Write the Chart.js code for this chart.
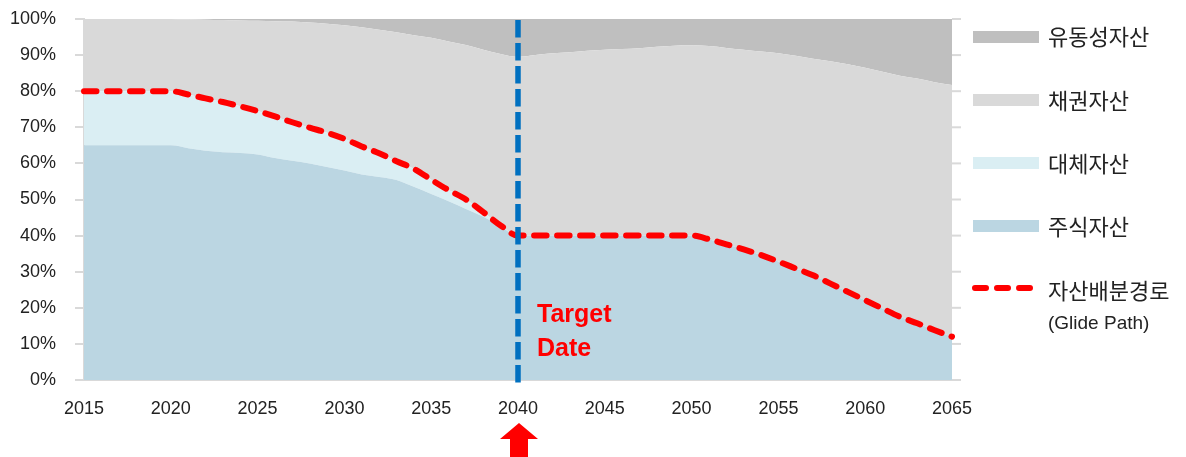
<!DOCTYPE html>
<html>
<head>
<meta charset="utf-8">
<script src="https://cdn.jsdelivr.net/npm/chart.js@4/dist/chart.umd.min.js"></script>
<style>
  body { margin: 0; background: #fff; }
  #wrap { position: relative; width: 1186px; height: 457px; }
  .sw { position: absolute; left: 973px; width: 66px; height: 12px; }
  .lg { position: absolute; left: 1048px; font: 22px "Noto Sans CJK KR", sans-serif; color: #222; line-height: 26px; white-space: nowrap; }
  .sub { position: absolute; left: 1048px; font: 19px "Liberation Sans", sans-serif; color: #222; line-height: 22px; white-space: nowrap; }
</style>
</head>
<body>
<div id="wrap">
  <canvas id="grafico"></canvas>
  <div class="sw" style="top:31px;background:#BFBFBF"></div>
  <div class="lg" style="top:22px">유동성자산</div>
  <div class="sw" style="top:94px;background:#D9D9D9"></div>
  <div class="lg" style="top:86px">채권자산</div>
  <div class="sw" style="top:157px;background:#DAEEF3"></div>
  <div class="lg" style="top:149px">대체자산</div>
  <div class="sw" style="top:220px;background:#BBD6E2"></div>
  <div class="lg" style="top:212px">주식자산</div>
  <svg style="position:absolute;left:0;top:0" width="1186" height="457">
    <line x1="975" y1="288" x2="1030" y2="288" stroke="#FF0000" stroke-width="6" stroke-linecap="round" stroke-dasharray="11 11"/>
  </svg>
  <div class="lg" style="top:276px">자산배분경로</div>
  <div class="sub" style="top:312px">(Glide Path)</div>
</div>
<script>
const anos = [2015,2016,2017,2018,2019,2020,2021,2022,2023,2024,2025,2026,2027,2028,2029,2030,
  2031,2032,2033,2034,2035,2036,2037,2038,2039,2040,2041,2042,2043,2044,2045,2046,2047,2048,2049,2050,
  2051,2052,2053,2054,2055,2056,2057,2058,2059,2060,2061,2062,2063,2064,2065];

// shares in %
const acoes = [65,65,65,65,65,65, 64.2,63.5,63.1,62.9,62.5,61.5,60.7,60,59,58,
  56.9,56.2,55.4,53.5,51.5,49.5,47.4,45.2,42.5,40, 40,40,40,40,40,40,40,40,40,40,
  39,37.6,36.2,34.6,32.8,30.9,29,26.7,24.4,22.1, 19.8,17.5,15.7,13.8,12];
const alternativos = [15,15,15,15,15,15, 14.9,14.5,13.9,12.9,12,11.5,10.7,9.9,9.5,8.8,
  7.8,6.6,5.2,5,4,3.1,2.6,1.3,0.3,0, 0,0,0,0,0,0,0,0,0,0,
  0,0,0,0,0,0,0,0,0,0, 0,0,0,0,0];
const titulos = [20,20,20,20,20,20, 20.8,21.8,22.7,23.8,25,26.4,27.9,29.1,30.2,31.5,
  33,34.2,35.7,37,39.3,41.2,42.8,45,47.5,49.5, 50,50.5,50.8,51.2,51.5,51.7,51.9,52.3,52.6,52.7,
  53.5,54.4,55.3,56.4,57.7,58.9,60,61.6,63.1,64.4, 65.6,66.8,67.8,68.7,69.7];
const liquidez = [0,0,0,0,0,0, 0.1,0.2,0.3,0.4,0.5,0.6,0.7,1,1.3,1.7,
  2.3,3,3.7,4.5,5.2,6.2,7.2,8.5,9.7,10.5, 10,9.5,9.2,8.8,8.5,8.3,8.1,7.7,7.4,7.3,
  7.5,8,8.5,9,9.5,10.2,11,11.7,12.5,13.5, 14.6,15.7,16.5,17.5,18.3];
const glidePath = [80,80,80,80,80,80, 79.1,78,77,75.8,74.5,73,71.4,69.9,68.5,66.8,
  64.7,62.8,60.6,58.5,55.5,52.6,50,46.5,42.8,40, 40,40,40,40,40,40,40,40,40,40,
  39,37.6,36.2,34.6,32.8,30.9,29,26.7,24.4,22.1, 19.8,17.5,15.7,13.8,12];
const anoAlvo = 2040;

const area = (label, data, cor, fill) => ({
    label: label,
    data: data,
    backgroundColor: cor,
    borderWidth: 0,
    pointRadius: 0,
    fill: fill,
    stack: 'ativos',
    cubicInterpolationMode: 'monotone',
});

const extras = {
    id: 'extras',
    afterDatasetsDraw(chart) {
        const ctx = chart.ctx;
        const x = chart.scales.x;
        const y = chart.scales.y;
        const a = chart.chartArea;
        const px = x.getPixelForValue(anos.indexOf(anoAlvo));
        ctx.save();
        // right side tick marks
        ctx.strokeStyle = '#D9D9D9';
        ctx.lineWidth = 2;
        for (let v = 0; v <= 100; v += 10) {
            const py = y.getPixelForValue(v);
            ctx.beginPath();
            ctx.moveTo(a.right, py);
            ctx.lineTo(a.right + 9, py);
            ctx.stroke();
        }
        // target date line
        ctx.strokeStyle = '#0070C0';
        ctx.lineWidth = 5.5;
        ctx.setLineDash([17.5, 5.5]);
        ctx.beginPath();
        ctx.moveTo(px, a.top + 1);
        ctx.lineTo(px, a.bottom + 3);
        ctx.stroke();
        ctx.setLineDash([]);
        ctx.fillStyle = '#FF0000';
        ctx.font = 'bold 25px "Liberation Sans", sans-serif';
        ctx.textBaseline = 'alphabetic';
        ctx.fillText('Target', px + 19, y.getPixelForValue(16));
        ctx.fillText('Date', px + 19, y.getPixelForValue(6.6));
        // arrow
        ctx.beginPath();
        ctx.moveTo(px + 1, 423);
        ctx.lineTo(px + 20, 439);
        ctx.lineTo(px + 10, 439);
        ctx.lineTo(px + 10, 457);
        ctx.lineTo(px - 8, 457);
        ctx.lineTo(px - 8, 439);
        ctx.lineTo(px - 18, 439);
        ctx.closePath();
        ctx.fill();
        ctx.restore();
    }
};

const grafico = new Chart(document.getElementById('grafico'), {
    type: 'line',
    data: {
        labels: anos,
        datasets: [
            {
                label: '자산배분경로 (Glide Path)',
                data: glidePath,
                borderColor: '#FF0000',
                borderWidth: 6,
                borderDash: [12.5, 10.5],
                borderCapStyle: 'round',
                pointRadius: 0,
                fill: false,
                stack: 'path',
                cubicInterpolationMode: 'monotone',
            },
            area('주식자산', acoes, '#BBD6E2', 'origin'),
            area('대체자산', alternativos, '#DAEEF3', '-1'),
            area('채권자산', titulos, '#D9D9D9', '-1'),
            area('유동성자산', liquidez, '#BFBFBF', '-1'),
        ]
    },
    options: {
        responsive: true,
        maintainAspectRatio: false,
        animation: false,
        layout: { padding: { top: 19, right: 234, left: 0, bottom: 0 } },
        plugins: { legend: { display: false }, tooltip: { enabled: false } },
        scales: {
            x: {
                grid: { display: false },
                border: { display: true, color: '#D9D9D9', width: 2 },
                ticks: {
                    autoSkip: false,
                    maxRotation: 0,
                    padding: 10,
                    color: '#222',
                    font: { family: '"Liberation Sans", sans-serif', size: 18 },
                    callback: (v, i) => anos[i] % 5 === 0 ? anos[i] : '',
                },
                afterFit: (s) => { s.height = 77; },
            },
            y: {
                stacked: true,
                min: 0,
                max: 100,
                grid: { drawOnChartArea: false, color: '#D9D9D9', lineWidth: 2, tickLength: 9 },
                border: { display: true, color: '#D9D9D9', width: 2 },
                ticks: {
                    stepSize: 10,
                    padding: 19,
                    color: '#222',
                    font: { family: '"Liberation Sans", sans-serif', size: 18 },
                    callback: (v) => v + '%',
                },
                afterFit: (s) => {
                    s.width = 84;
                    s.paddingTop = 11;
                    s.paddingBottom = 11;
                },
            }
        }
    },
    plugins: [extras]
});
</script>
</body>
</html>
